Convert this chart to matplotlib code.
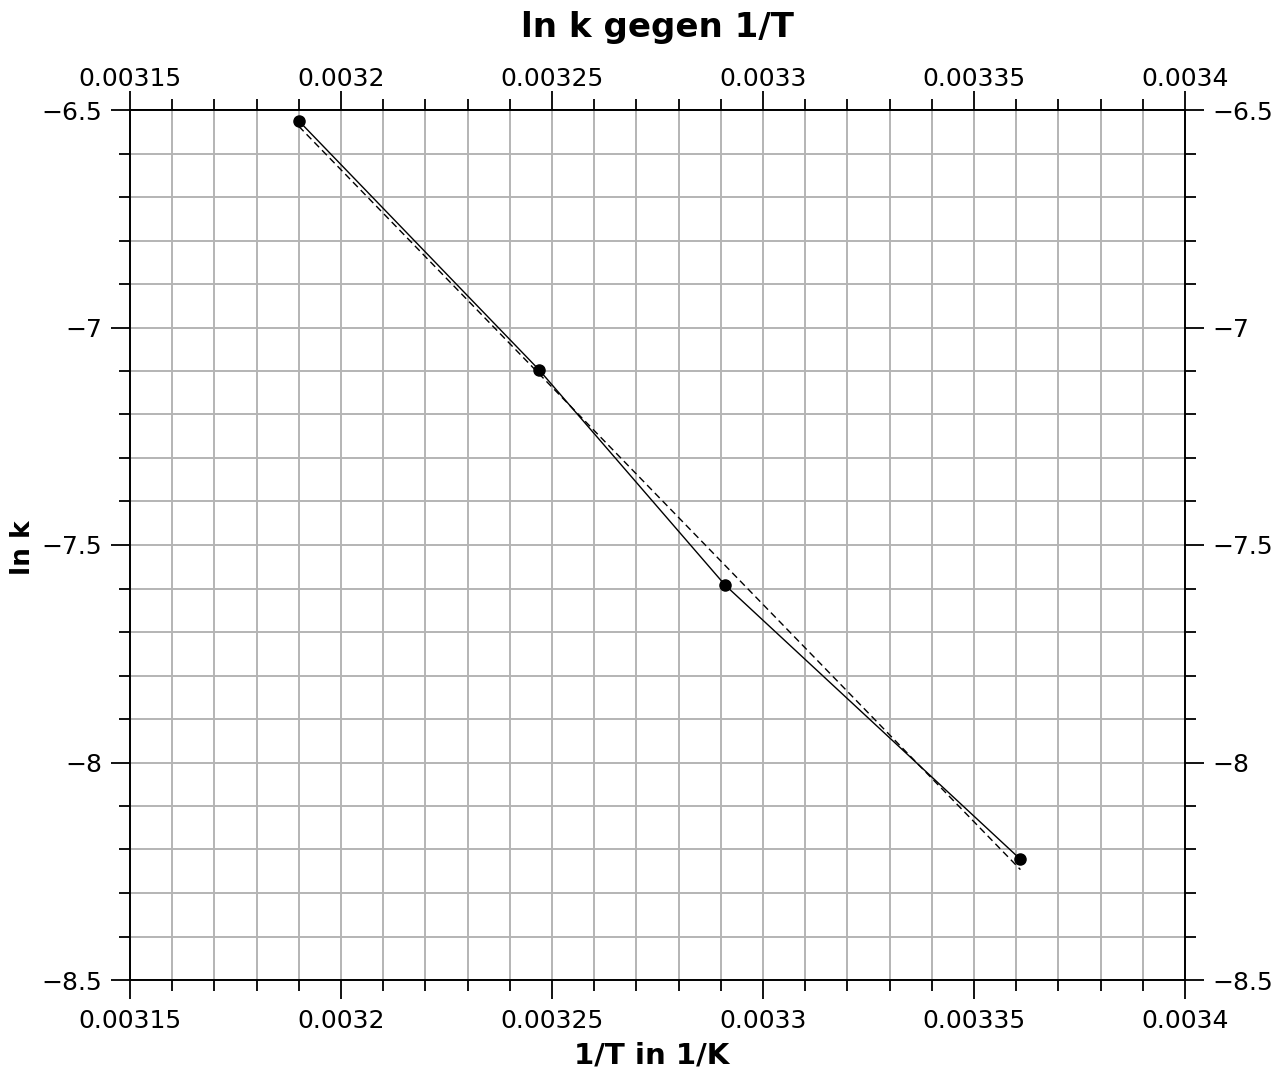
#!/usr/bin/env python3
"""Arrhenius plot: ln k gegen 1/T with linear fit."""
import matplotlib
matplotlib.use("Agg")
import matplotlib.pyplot as plt
import numpy as np
from matplotlib.ticker import MultipleLocator, FuncFormatter

inv_T = [0.003190, 0.003247, 0.003291, 0.003361]
ln_k = [-6.525, -7.098, -7.592, -8.2225]

x_ticks = [0.00315, 0.0032, 0.00325, 0.0033, 0.00335, 0.0034]
y_ticks = [-8.5, -8.0, -7.5, -7.0, -6.5]


def fmt(v, _pos):
    return ("%g" % round(v, 6)).replace("-", "\u2212")


fig = plt.figure(figsize=(12.79, 10.75), dpi=100)
ax = fig.add_axes([130 / 1279, 1 - 980 / 1075, 1055 / 1279, 870 / 1075])

ax.set_xlim(0.00315, 0.0034)
ax.set_ylim(-8.5, -6.5)
ax.set_xticks(x_ticks)
ax.set_yticks(y_ticks)
ax.xaxis.set_minor_locator(MultipleLocator(0.00001))
ax.yaxis.set_minor_locator(MultipleLocator(0.1))
ax.xaxis.set_major_formatter(FuncFormatter(fmt))
ax.yaxis.set_major_formatter(FuncFormatter(fmt))

ax.grid(True, which="both", color="#b4b4b4", linewidth=1.4)
ax.set_axisbelow(True)
ax.tick_params(which="both", direction="out", top=False, right=True,
               labelright=True, labelsize=18, width=1.3,
               color="black", pad=6)
ax.tick_params(which="major", length=14)
ax.tick_params(which="minor", length=8)
ax.tick_params(axis="x", which="major", pad=7)
for s in ax.spines.values():
    s.set_linewidth(1.4)
    s.set_color("black")

# top axis carries the same scale, labels a bit closer to the frame
top = ax.secondary_xaxis("top")
top.set_xticks(x_ticks)
top.xaxis.set_minor_locator(MultipleLocator(0.00001))
top.xaxis.set_major_formatter(FuncFormatter(fmt))
top.tick_params(which="both", direction="out", labelsize=18, width=1.3,
                color="black", pad=0)
top.tick_params(which="major", length=14)
top.tick_params(which="minor", length=8)
top.spines["top"].set_linewidth(1.4)

# measured data
ax.plot(inv_T, ln_k, color="black", linewidth=1.0, marker="o", markersize=8,
        zorder=3)

# linear regression (dashed)
slope, icpt = np.polyfit(inv_T, ln_k, 1)
xf = np.array([inv_T[0], inv_T[-1]])
ax.plot(xf, slope * xf + icpt, color="black", linewidth=1.0,
        linestyle=(0, (5, 3)), zorder=2)

fig.text(657 / 1279, 1 - 27 / 1075, "ln k gegen 1/T", ha="center", va="center",
         fontsize=24.5, fontweight="bold")
fig.text(652 / 1279, 1 - 1055 / 1075, "1/T in 1/K", ha="center", va="center",
         fontsize=21, fontweight="bold")
fig.text(23 / 1279, 1 - 548 / 1075, "ln k", ha="center", va="center",
         rotation=90, fontsize=19, fontweight="bold")

fig.savefig("out.png", dpi=100, facecolor="white")
